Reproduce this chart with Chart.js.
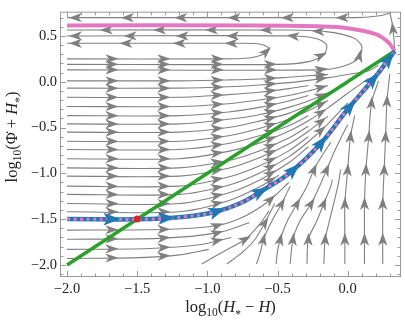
<!DOCTYPE html>
<html>
<head>
<meta charset="utf-8">
<script src="https://cdn.jsdelivr.net/npm/chart.js@4.4.1/dist/chart.umd.min.js"></script>
<style>
  html, body { margin: 0; padding: 0; background: #fff; }
  canvas { display: block; }
</style>
</head>
<body>
<canvas id="flowChart" width="405" height="324"></canvas>
<script>
// axis limits and tick labels
const xLimits = [-2.05, 0.38];
const yLimits = [-2.132, 0.765];
const xTicks = [-2.0, -1.5, -1.0, -0.5, 0.0];
const yTicks = [-2.0, -1.5, -1.0, -0.5, 0.0, 0.5];

// green line and the two separatrices
const diagonal = [[-2, -2], [0.335, 0.335]];
const upperSeparatrix = [[-2, 0.615], [-0.7, 0.615], [-0.21, 0.605], [0, 0.585], [0.2, 0.52], [0.29, 0.43], [0.335, 0.335]];
const lowerSeparatrix = [[-2, -1.5], [-1.41, -1.5], [-1.16, -1.475], [-0.94, -1.42], [-0.77, -1.33], [-0.61, -1.19],
  [-0.40, -0.98], [-0.19, -0.67], [0.0, -0.30], [0.20, 0.06], [0.335, 0.335]];
const lowerArrows = [[-1.68, -1.5], [-1.29, -1.5], [-0.93, -1.41], [-0.62, -1.2], [-0.385, -0.96],
  [-0.19, -0.66], [0.02, -0.27], [0.18, 0.03], [0.30, 0.24]];
const marker = [[-1.5, -1.5]];

// gray stream lines (points in flow direction)
const rowLines = [
  [[-2, 0.01], [-1.2, 0.01], [-0.85, 0.02], [-0.63, 0.03], [-0.42, 0.05], [-0.28, 0.065], [-0.14, 0.08]],
  [[-2, -0.07], [-1.2, -0.07], [-0.85, -0.055], [-0.63, -0.035], [-0.42, -0.01], [-0.28, 0.015], [-0.14, 0.045], [0, 0.08], [0.15, 0.12], [0.22, 0.18]],
  [[-2, -0.17], [-1.2, -0.17], [-0.85, -0.14], [-0.63, -0.115], [-0.42, -0.075], [-0.28, -0.04]],
  [[-2, -0.27], [-1.2, -0.27], [-0.85, -0.24], [-0.63, -0.2], [-0.42, -0.15], [-0.28, -0.1], [-0.14, -0.04]],
  [[-2, -0.37], [-1.2, -0.37], [-0.85, -0.33], [-0.63, -0.28], [-0.42, -0.21], [-0.28, -0.15]],
  [[-2, -0.46], [-1.2, -0.46], [-0.85, -0.41], [-0.63, -0.36], [-0.42, -0.28], [-0.28, -0.21], [-0.14, -0.12], [0, -0.02]],
  [[-2, -0.55], [-1.2, -0.55], [-0.85, -0.5], [-0.63, -0.43], [-0.42, -0.345], [-0.28, -0.26]],
  [[-2, -0.65], [-1.2, -0.65], [-0.85, -0.59], [-0.63, -0.51], [-0.42, -0.41], [-0.28, -0.315], [-0.14, -0.205]],
  [[-2, -0.74], [-1.2, -0.74], [-0.85, -0.675], [-0.63, -0.59], [-0.42, -0.48], [-0.28, -0.37]],
  [[-2, -0.84], [-1.2, -0.84], [-0.85, -0.76], [-0.63, -0.67], [-0.42, -0.54], [-0.28, -0.425], [-0.14, -0.285], [0, -0.125], [0.15, 0.035]],
  [[-2, -0.94], [-1.2, -0.94], [-0.85, -0.86], [-0.63, -0.755], [-0.42, -0.615], [-0.28, -0.485]],
  [[-2, -1.03], [-1.2, -1.03], [-0.85, -0.945], [-0.63, -0.83], [-0.42, -0.68], [-0.28, -0.54], [-0.14, -0.375]],
  [[-2, -1.14], [-1.2, -1.14], [-0.85, -1.04], [-0.63, -0.92], [-0.42, -0.755], [-0.28, -0.6]],
  [[-2, -1.23], [-1.2, -1.23], [-0.85, -1.13], [-0.63, -1.0], [-0.42, -0.82], [-0.28, -0.655], [-0.14, -0.46], [0, -0.23]],
  [[-2, -1.33], [-1.2, -1.33], [-0.85, -1.215], [-0.63, -1.075], [-0.42, -0.885], [-0.28, -0.71]],
  [[-2, -1.42], [-1.2, -1.42], [-0.85, -1.3], [-0.63, -1.15], [-0.49, -1.02]]
];
const belowLines = [
  [[-2, -1.62], [-1.27, -1.61], [-0.93, -1.57], [-0.73, -1.465], [-0.56, -1.30], [-0.42, -1.10]],
  [[-2, -1.72], [-1.34, -1.71], [-0.93, -1.65], [-0.70, -1.54]],
  [[-2, -1.83], [-1.41, -1.82], [-1.06, -1.78], [-0.83, -1.70]],
  [[-2, -1.93], [-1.48, -1.92], [-1.2, -1.89], [-0.99, -1.83]]
];
const turnLines = [
  [[-2, 0.25], [-0.92, 0.25], [-0.70, 0.26], [-0.60, 0.30], [-0.56, 0.36], [-0.62, 0.41], [-0.77, 0.42], [-2, 0.42]],
  [[-2, 0.19], [-0.49, 0.19], [-0.28, 0.22], [-0.17, 0.30], [-0.15, 0.40], [-0.22, 0.47], [-0.39, 0.50], [-2, 0.50]],
  [[-2, 0.13], [-0.21, 0.13], [-0.03, 0.17], [0.08, 0.26], [0.10, 0.39], [0.04, 0.48], [-0.14, 0.545], [-0.42, 0.565], [-2, 0.565]]
];
const risingLines = [
  [[-1.04, -1.99], [-0.88, -1.85], [-0.73, -1.72], [-0.63, -1.56], [-0.56, -1.41]],
  [[-0.86, -1.99], [-0.74, -1.85], [-0.66, -1.72], [-0.59, -1.54], [-0.52, -1.33]],
  [[-0.65, -1.99], [-0.62, -1.85], [-0.60, -1.72], [-0.54, -1.52], [-0.47, -1.33], [-0.41, -1.14]],
  [[-0.51, -1.99], [-0.50, -1.85], [-0.48, -1.72], [-0.43, -1.52], [-0.36, -1.33], [-0.29, -1.14], [-0.24, -0.96], [-0.18, -0.80], [-0.12, -0.66]],
  [[-0.41, -1.99], [-0.39, -1.72], [-0.34, -1.52], [-0.26, -1.33], [-0.20, -1.14], [-0.15, -0.96], [-0.10, -0.78], [-0.05, -0.62], [0.0, -0.47]],
  [[-0.29, -1.99], [-0.28, -1.72], [-0.22, -1.52], [-0.17, -1.33], [-0.12, -1.14], [-0.11, -1.07]],
  [[-0.17, -1.99], [-0.16, -1.72], [-0.13, -1.52], [-0.10, -1.33], [-0.07, -1.14], [-0.05, -0.96]],
  [[-0.02, -1.99], [-0.02, -1.72], [-0.02, -1.33], [0.0, -0.96], [0.02, -0.60], [0.05, -0.37]],
  [[0.12, -1.99], [0.12, -1.33], [0.13, -0.96], [0.15, -0.60], [0.17, -0.23], [0.22, 0.01]],
  [[0.25, -1.99], [0.25, -1.33], [0.26, -0.96], [0.27, -0.60], [0.28, -0.21], [0.30, 0.085]],
  [[0.335, 0.335], [0.33, 0.46], [0.32, 0.61], [0.30, 0.76]]
];
const topLines = [
  [[0.30, 0.745], [0.2, 0.715], [0.05, 0.70], [-0.3, 0.70], [-2, 0.70]]
];

// arrow columns on the rightward rows, then the other gray arrow heads
const rowArrowX = [-1.68, -1.31, -0.93, -0.55, -0.19];
const grayArrows = [
  [-1.94, 0.70], [-1.57, 0.70], [-1.19, 0.70], [-0.81, 0.70], [-0.43, 0.70], [-0.04, 0.70],
  [-1.94, 0.42], [-1.58, 0.42], [-1.20, 0.42], [-0.83, 0.42], [-0.58, 0.33],
  [-1.94, 0.50], [-1.55, 0.50], [-1.18, 0.50], [-0.82, 0.50], [-0.39, 0.50],
  [-1.72, 0.565], [-1.34, 0.565], [-0.97, 0.565], [-0.58, 0.565], [-0.21, 0.55], [0.09, 0.28],
  [-0.73, -1.72], [-0.60, -1.72], [-0.48, -1.72], [-0.39, -1.72], [-0.28, -1.72], [-0.16, -1.72], [-0.02, -1.72], [0.12, -1.72], [0.25, -1.72],
  [-0.59, -1.54],
  [-0.47, -1.33], [-0.36, -1.33], [-0.26, -1.33], [-0.17, -1.33], [-0.02, -1.33], [0.12, -1.33], [0.25, -1.33],
  [-0.24, -0.96], [-0.15, -0.96], [0.0, -0.96], [0.13, -0.96], [0.26, -0.96],
  [0.02, -0.60], [0.15, -0.60], [0.27, -0.60],
  [0.17, -0.23], [0.28, -0.21],
  [0.32, 0.58]
];

const gray = '#808080';
const serif = '"Liberation Serif", "DejaVu Serif", serif';
const grayLines = [...rowLines, ...belowLines, ...turnLines, ...risingLines, ...topLines];
const toXY = pts => pts.map(([x, y]) => ({ x, y }));

function toPx(chart, p) {
  return [chart.scales.x.getPixelForValue(p[0]), chart.scales.y.getPixelForValue(p[1])];
}

function arrowHead(ctx, h, len, half, notch, color) {
  ctx.save();
  ctx.translate(h.x, h.y);
  ctx.rotate(h.ang);
  ctx.beginPath();
  ctx.moveTo(len * 0.5, 0);
  ctx.lineTo(-len * 0.5, -half);
  ctx.lineTo(-len * 0.5 + notch, 0);
  ctx.lineTo(-len * 0.5, half);
  ctx.closePath();
  ctx.fillStyle = color;
  ctx.fill();
  ctx.restore();
}

// snap a point onto the closest segment of the given lines
function nearestOnLines(chart, lines, pt) {
  const [qx, qy] = toPx(chart, pt);
  let best = null;
  lines.forEach(line => {
    const px = line.map(p => toPx(chart, p));
    for (let i = 0; i < px.length - 1; i++) {
      const [ax, ay] = px[i], [bx, by] = px[i + 1];
      const dx = bx - ax, dy = by - ay;
      let t = ((qx - ax) * dx + (qy - ay) * dy) / (dx * dx + dy * dy || 1);
      t = Math.max(0, Math.min(1, t));
      const cx = ax + t * dx, cy = ay + t * dy;
      const d = (cx - qx) ** 2 + (cy - qy) ** 2;
      if (!best || d < best.d) best = { d, x: cx, y: cy, ang: Math.atan2(dy, dx) };
    }
  });
  return best;
}

// arrow where a rightward line first passes each column
function columnArrows(chart, lines, xs) {
  const out = [];
  lines.forEach(line => {
    xs.forEach(s => {
      for (let i = 0; i < line.length - 1; i++) {
        const a = line[i], b = line[i + 1];
        if (a[0] <= s && s < b[0]) {
          const t = (s - a[0]) / (b[0] - a[0]);
          const [ax, ay] = toPx(chart, a), [bx, by] = toPx(chart, b);
          out.push({ x: ax + t * (bx - ax), y: ay + t * (by - ay), ang: Math.atan2(by - ay, bx - ax) });
          break;
        }
      }
    });
  });
  return out;
}

function richText(ctx, parts, cx, baseline) {
  let w = 0;
  parts.forEach(p => { ctx.font = p.f; w += ctx.measureText(p.t).width; });
  let x = cx - w / 2;
  parts.forEach(p => {
    ctx.font = p.f;
    ctx.fillText(p.t, x, baseline + (p.dy || 0));
    x += ctx.measureText(p.t).width;
  });
}

const overlay = {
  id: 'overlay',
  beforeDatasetDraw(chart, args) {
    const label = chart.data.datasets[args.index].label;
    if (label !== 'diagonal' && label !== 'marker') return;
    const { ctx, chartArea: a } = chart;
    ctx.save();
    ctx.beginPath();
    ctx.rect(a.left, a.top, a.right - a.left, a.bottom - a.top);
    ctx.clip();
    if (label === 'diagonal') {
      const heads = columnArrows(chart, [...rowLines, ...belowLines, ...turnLines], rowArrowX)
        .concat(grayArrows.map(p => nearestOnLines(chart, grayLines, p)));
      heads.forEach(h => arrowHead(ctx, h, 13, 4.6, 3.5, gray));
    } else {
      lowerArrows.forEach(p => arrowHead(ctx, nearestOnLines(chart, [lowerSeparatrix], p), 17, 6.3, 4, '#1f77b4'));
    }
    ctx.restore();
  },
  afterDraw(chart) {
    const { ctx, chartArea: a, scales } = chart;
    ctx.save();
    // frame with inward ticks
    ctx.strokeStyle = '#9a9a9a';
    ctx.lineWidth = 1;
    ctx.strokeRect(a.left + 0.5, a.top + 0.5, a.right - a.left - 1, a.bottom - a.top - 1);
    ctx.beginPath();
    for (let k = -21; k <= 4; k++) {
      const v = k / 10;
      if (v < xLimits[0] || v > xLimits[1]) continue;
      const len = k % 5 === 0 ? 6 : 3.5;
      const px = Math.round(scales.x.getPixelForValue(v)) + 0.5;
      ctx.moveTo(px, a.bottom); ctx.lineTo(px, a.bottom - len);
      ctx.moveTo(px, a.top); ctx.lineTo(px, a.top + len);
    }
    for (let k = -22; k <= 7; k++) {
      const v = k / 10;
      if (v < yLimits[0] || v > yLimits[1]) continue;
      const len = k % 5 === 0 ? 6 : 3.5;
      const py = Math.round(scales.y.getPixelForValue(v)) + 0.5;
      ctx.moveTo(a.left, py); ctx.lineTo(a.left + len, py);
      ctx.moveTo(a.right, py); ctx.lineTo(a.right - len, py);
    }
    ctx.stroke();

    // axis titles
    const fMain = `16.5px ${serif}`, fIt = `italic 16.5px ${serif}`, fSub = `11.5px ${serif}`;
    ctx.fillStyle = '#222';
    ctx.textAlign = 'left';
    ctx.textBaseline = 'alphabetic';
    richText(ctx, [
      { t: 'log', f: fMain }, { t: '10', f: fSub, dy: 4 }, { t: '(', f: fMain }, { t: 'H', f: fIt },
      { t: '*', f: fSub, dy: 6 }, { t: ' \u2212 ', f: fMain }, { t: 'H', f: fIt }, { t: ')', f: fMain }
    ], (a.left + a.right) / 2, 312);
    ctx.translate(17, 137);
    ctx.rotate(-Math.PI / 2);
    richText(ctx, [
      { t: 'log', f: fMain }, { t: '10', f: fSub, dy: 4 }, { t: '(', f: fMain }, { t: '\u03A6\u0307', f: fMain },
      { t: ' + ', f: fMain }, { t: 'H', f: fIt }, { t: '*', f: fSub, dy: 6 }, { t: ')', f: fMain }
    ], 0, 0);
    ctx.restore();
  }
};

const datasets = grayLines.map(line => ({
  label: 'stream', data: toXY(line), showLine: true, borderColor: gray, borderWidth: 1.1,
  pointRadius: 0, tension: 0.3, order: 10
}));
datasets.push(
  { label: 'diagonal', data: toXY(diagonal), showLine: true, borderColor: '#2ca02c', borderWidth: 3.5, pointRadius: 0, order: 6 },
  { label: 'upper', data: toXY(upperSeparatrix), showLine: true, borderColor: '#e377c2', borderWidth: 4, pointRadius: 0, tension: 0.4, order: 5 },
  { label: 'lower', data: toXY(lowerSeparatrix), showLine: true, borderColor: '#1f77b4', borderWidth: 4.5, pointRadius: 0, tension: 0.4, order: 4 },
  { label: 'lowerDash', data: toXY(lowerSeparatrix), showLine: true, borderColor: '#e377c2', borderWidth: 3, borderDash: [3, 3.5], pointRadius: 0, tension: 0.4, order: 3 },
  { label: 'marker', data: toXY(marker), pointRadius: 3.5, pointBackgroundColor: '#d62728', pointBorderWidth: 0, order: 1 }
);

const tickFmt = v => (v < 0 ? '\u2212' : '') + Math.abs(v).toFixed(1);

new Chart(document.getElementById('flowChart'), {
  type: 'scatter',
  data: { datasets },
  options: {
    responsive: false,
    animation: false,
    devicePixelRatio: 1,
    layout: { padding: { left: 0, right: 2, top: 0, bottom: 0 } },
    plugins: { legend: { display: false }, tooltip: { enabled: false } },
    scales: {
      x: {
        type: 'linear', min: xLimits[0], max: xLimits[1],
        grid: { display: false, drawTicks: false }, border: { display: false },
        ticks: { color: '#222', padding: 3, maxRotation: 0, font: { family: serif, size: 14.5 }, callback: tickFmt },
        afterBuildTicks: s => { s.ticks = xTicks.map(v => ({ value: v })); },
        afterFit: s => { s.height = 47; }
      },
      y: {
        type: 'linear', min: yLimits[0], max: yLimits[1],
        grid: { display: false, drawTicks: false }, border: { display: false },
        ticks: { color: '#222', padding: 3, font: { family: serif, size: 14.5 }, callback: tickFmt },
        afterBuildTicks: s => { s.ticks = yTicks.map(v => ({ value: v })); },
        afterFit: s => { s.width = 60; }
      }
    }
  },
  plugins: [overlay]
});
</script>
</body>
</html>
